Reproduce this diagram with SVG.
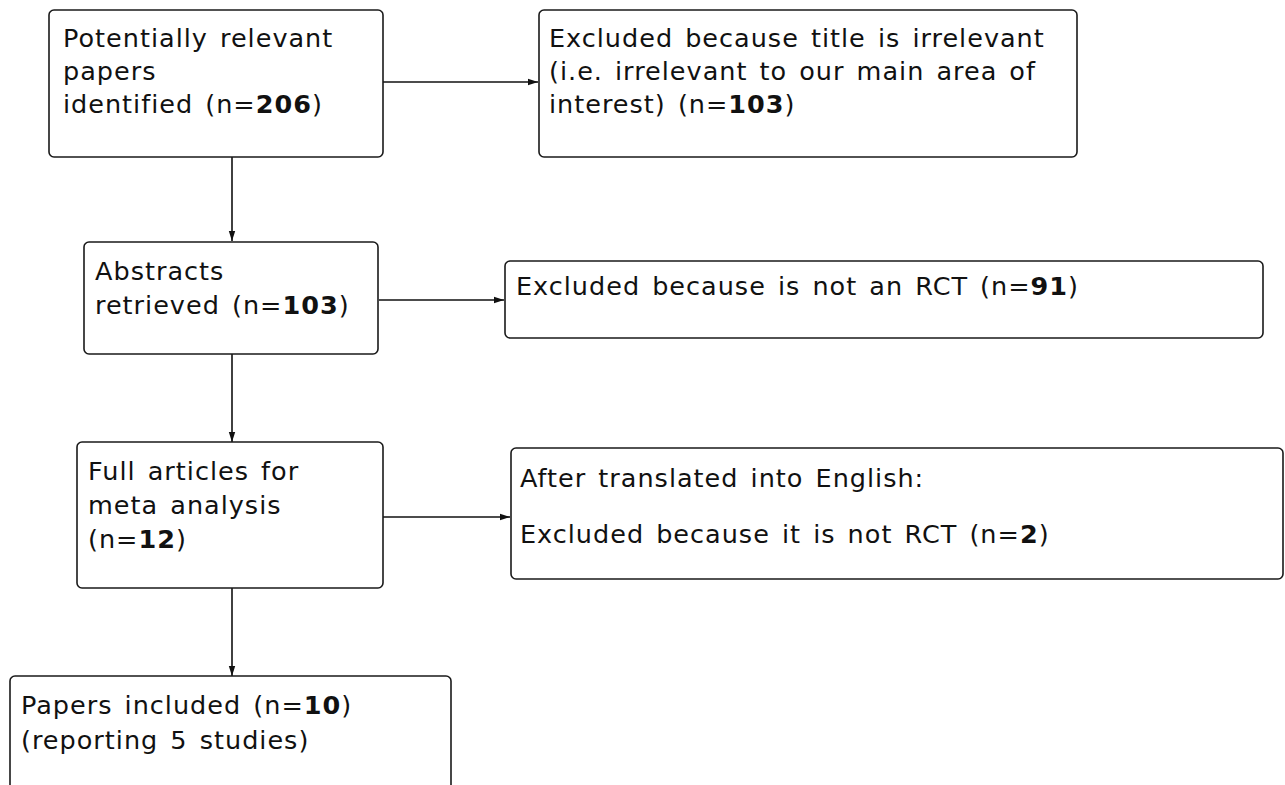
<svg xmlns="http://www.w3.org/2000/svg" width="1285" height="785" viewBox="0 0 1285 785">
<style>
.box{fill:#fff;stroke:#1a1a1a;stroke-width:1.6}
.t{font-family:"DejaVu Sans",Verdana,sans-serif;font-size:25.5px;letter-spacing:1px;word-spacing:3px;fill:#111}
.b{font-weight:bold}
.c{stroke:#111;stroke-width:1.6;fill:none}
</style>
<defs>
<marker id="ah" viewBox="0 0 10 8" refX="10" refY="4" markerWidth="10" markerHeight="8" markerUnits="userSpaceOnUse" orient="auto">
<path d="M0,0.8 L10,4 L0,7.2 z" fill="#111"/>
</marker>
</defs>
<rect width="1285" height="785" fill="#fff"/>
<g id="connectors">
<line class="c" x1="383" y1="82" x2="538" y2="82" marker-end="url(#ah)"/>
<line class="c" x1="232" y1="157" x2="232" y2="241" marker-end="url(#ah)"/>
<line class="c" x1="379" y1="300" x2="504" y2="300" marker-end="url(#ah)"/>
<line class="c" x1="232" y1="354" x2="232" y2="442" marker-end="url(#ah)"/>
<line class="c" x1="383" y1="517" x2="510" y2="517" marker-end="url(#ah)"/>
<line class="c" x1="232" y1="588" x2="232" y2="676" marker-end="url(#ah)"/>
</g>
<g id="n1">
<rect class="box" x="49" y="10" width="334" height="147" rx="5"/>
<text class="t" x="63" y="47">Potentially relevant</text>
<text class="t" x="63" y="80">papers</text>
<text class="t" x="63" y="113">identified (n=<tspan class="b">206</tspan>)</text>
</g>
<g id="n2">
<rect class="box" x="539" y="10" width="538" height="147" rx="5"/>
<text class="t" x="549" y="47">Excluded because title is irrelevant</text>
<text class="t" x="549" y="80">(i.e. irrelevant to our main area of</text>
<text class="t" x="549" y="113">interest) (n=<tspan class="b">103</tspan>)</text>
</g>
<g id="n3">
<rect class="box" x="84" y="242" width="294" height="112" rx="5"/>
<text class="t" x="95" y="280">Abstracts</text>
<text class="t" x="95" y="314">retrieved (n=<tspan class="b">103</tspan>)</text>
</g>
<g id="n4">
<rect class="box" x="505" y="261" width="758" height="77" rx="5"/>
<text class="t" x="516" y="295">Excluded because is not an RCT (n=<tspan class="b">91</tspan>)</text>
</g>
<g id="n5">
<rect class="box" x="77" y="442" width="306" height="146" rx="5"/>
<text class="t" x="88" y="480">Full articles for</text>
<text class="t" x="88" y="514">meta analysis</text>
<text class="t" x="88" y="548">(n=<tspan class="b">12</tspan>)</text>
</g>
<g id="n6">
<rect class="box" x="511" y="448" width="772" height="131" rx="5"/>
<text class="t" x="520" y="487">After translated into English:</text>
<text class="t" x="520" y="543">Excluded because it is not RCT (n=<tspan class="b">2</tspan>)</text>
</g>
<g id="n7">
<rect class="box" x="10" y="676" width="441" height="130" rx="5"/>
<text class="t" x="21" y="714">Papers included (n=<tspan class="b">10</tspan>)</text>
<text class="t" x="21" y="749">(reporting 5 studies)</text>
</g>
</svg>
